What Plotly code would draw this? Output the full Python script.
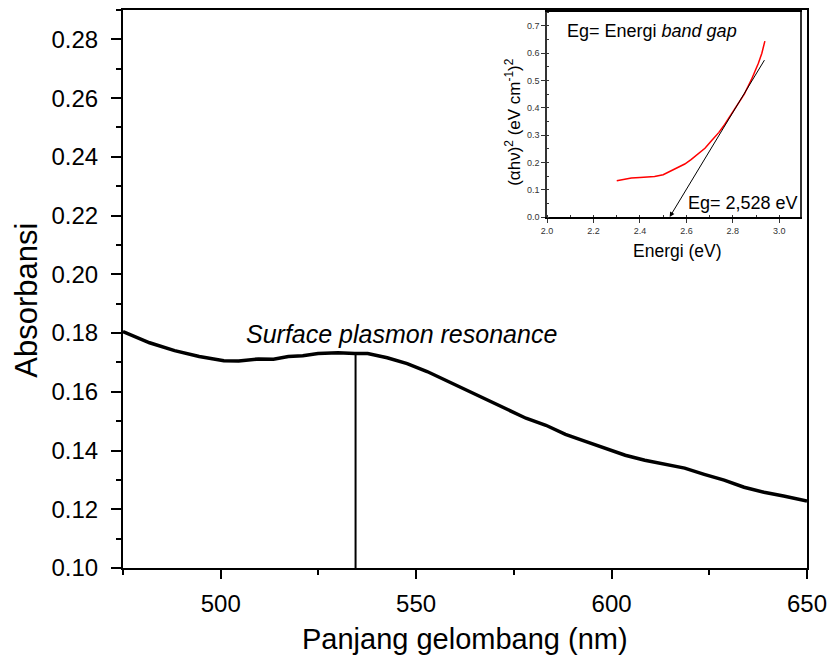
import plotly.graph_objects as go

# Main spectrum (wavelength nm, absorbance)
wavelength = [475, 481.8, 488.2, 494.5, 500.8, 504.6, 509.7, 513.5, 517.3, 521, 524.9, 530, 534.3,
              537.6, 542.6, 547.7, 552.8, 557.8, 562.9, 568, 573, 578.1, 583.2, 588.2, 593.3,
              598.4, 603.5, 608.5, 613.6, 618.7, 623.7, 628.8, 633.9, 639, 644, 650]
absorbance = [0.1805, 0.1767, 0.1740, 0.1720, 0.1706, 0.1705, 0.1712, 0.1711, 0.1720, 0.1723, 0.1730,
              0.1733, 0.1730, 0.1730, 0.1716, 0.1696, 0.1669, 0.1638, 0.1604, 0.1574, 0.1543,
              0.1510, 0.1486, 0.1455, 0.1431, 0.1407, 0.1384, 0.1367, 0.1353, 0.1340, 0.1319,
              0.1299, 0.1275, 0.1258, 0.1245, 0.1228]

# SPR peak marker
spr_x = 534.5
spr_y = 0.1730

# Inset Tauc plot
energy = [2.30, 2.33, 2.363, 2.40, 2.463, 2.50, 2.52, 2.55, 2.593, 2.62, 2.65, 2.68, 2.708,
          2.74, 2.765, 2.79, 2.823, 2.85, 2.88, 2.91, 2.925, 2.938]
tauc = [0.133, 0.138, 0.143, 0.145, 0.148, 0.155, 0.163, 0.176, 0.194, 0.210, 0.230, 0.252, 0.279,
        0.310, 0.339, 0.372, 0.412, 0.451, 0.503, 0.563, 0.600, 0.644]
tangent_x = [2.528, 2.94]
tangent_y = [0.0, 0.58]

FONT = "Liberation Sans, Arial, sans-serif"

fig = go.Figure()
fig.add_trace(go.Scatter(x=wavelength, y=absorbance, mode="lines",
                         line=dict(color="black", width=3.5), xaxis="x", yaxis="y",
                         showlegend=False, hoverinfo="skip"))
fig.add_trace(go.Scatter(x=[spr_x, spr_x], y=[0.10, spr_y], mode="lines",
                         line=dict(color="black", width=2), xaxis="x", yaxis="y",
                         showlegend=False, hoverinfo="skip"))
fig.add_trace(go.Scatter(x=energy, y=tauc, mode="lines",
                         line=dict(color="red", width=1.5), xaxis="x2", yaxis="y2",
                         showlegend=False, hoverinfo="skip"))

fig.update_layout(
    width=835, height=667,
    margin=dict(l=123, r=25, t=8, b=99),
    paper_bgcolor="white", plot_bgcolor="white",
    font=dict(family=FONT, color="black"),
    xaxis=dict(range=[475, 650], tickmode="array", tickvals=[500, 550, 600, 650],
               ticks="outside", ticklen=9, tickwidth=2, tickcolor="black",
               minor=dict(tickmode="array", tickvals=[475, 525, 575, 625], ticks="outside",
                          ticklen=5, tickwidth=2, tickcolor="black"),
               showline=True, linecolor="black", linewidth=2, mirror=True,
               showgrid=False, zeroline=False, ticklabelstandoff=4,
               tickfont=dict(size=24, family=FONT)),
    yaxis=dict(range=[0.10, 0.29], tick0=0.10, dtick=0.02, tickformat=".2f",
               ticks="outside", ticklen=10, tickwidth=2, tickcolor="black",
               minor=dict(dtick=0.01, tick0=0.10, ticks="outside", ticklen=5, tickwidth=2,
                          tickcolor="black"),
               showline=True, linecolor="black", linewidth=2, mirror=True,
               showgrid=False, zeroline=False, ticklabelstandoff=8,
               tickfont=dict(size=24, family=FONT)),
    xaxis2=dict(domain=[0.620, 0.990], anchor="y2", range=[2.0, 3.09], dtick=0.2, tick0=2.0,
                tickformat=".1f", ticks="outside", ticklen=4, tickwidth=1, tickcolor="#333",
                minor=dict(dtick=0.1, tick0=2.0, ticks="inside", ticklen=2, tickcolor="#333"),
                showline=True, linecolor="black", linewidth=1.5, mirror=True,
                showgrid=False, zeroline=False,
                tickfont=dict(size=9, color="#333", family=FONT)),
    yaxis2=dict(domain=[0.629, 0.996], anchor="x2", range=[0, 0.75], dtick=0.1, tick0=0,
                tickformat=".1f", ticks="outside", ticklen=4, tickwidth=1, tickcolor="#333",
                minor=dict(dtick=0.05, tick0=0, ticks="inside", ticklen=2, tickcolor="#333"),
                showline=True, linecolor="#333", linewidth=1.5, mirror=True,
                showgrid=False, zeroline=False,
                tickfont=dict(size=9, color="#333", family=FONT)),
)

annotations = [
    dict(text="Absorbansi", xref="paper", yref="paper", x=-0.141, y=0.48,
         textangle=-90, showarrow=False, font=dict(size=31, family=FONT),
         xanchor="center", yanchor="middle"),
    dict(text="Panjang gelombang (nm)", xref="paper", yref="paper", x=0.5, y=-0.128,
         showarrow=False, font=dict(size=29, family=FONT), xanchor="center", yanchor="middle"),
    dict(text="<i>Surface plasmon resonance</i>", xref="x", yref="y", x=546.2, y=0.1798,
         showarrow=False, font=dict(size=25, family=FONT), xanchor="center", yanchor="middle"),
    dict(text="Energi (eV)", xref="paper", yref="paper", x=0.810, y=0.568,
         showarrow=False, font=dict(size=17.5, family=FONT), xanchor="center", yanchor="middle"),
    dict(text="(αhν)<sup>2</sup> (eV cm<sup>-1</sup>)<sup>2</sup>", xref="paper", yref="paper",
         x=0.569, y=0.80, textangle=-90, showarrow=False,
         font=dict(size=17, family=FONT), xanchor="center", yanchor="middle"),
    dict(text="Eg= Energi <i>band gap</i>", xref="x2", yref="y2", x=2.077, y=0.68,
         showarrow=False, font=dict(size=18, family=FONT), xanchor="left", yanchor="middle"),
    dict(text="Eg= 2,528 eV", xref="x2", yref="y2", x=3.06, y=0.051, xshift=7,
         showarrow=False, font=dict(size=18, family=FONT), xanchor="right", yanchor="middle"),
    dict(text="", xref="x2", yref="y2", axref="x2", ayref="y2",
         x=tangent_x[0], y=tangent_y[0], ax=tangent_x[1], ay=tangent_y[1],
         showarrow=True, arrowhead=2, arrowsize=1, arrowwidth=1, arrowcolor="black"),
]
fig.update_layout(annotations=annotations)

fig.write_html("out.html")
